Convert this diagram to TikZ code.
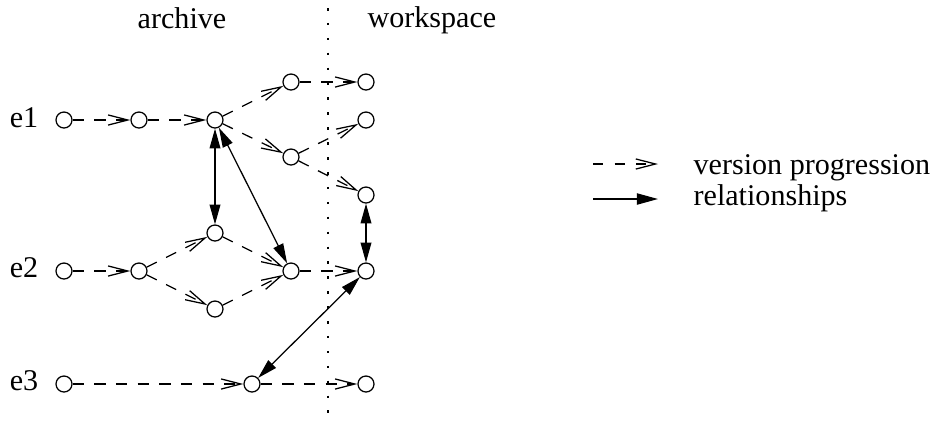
\documentclass[tikz,border=0pt]{standalone}
\usepackage{fontspec}
\setmainfont{Liberation Serif}
\usetikzlibrary{arrows.meta}

\begin{document}
\begin{tikzpicture}[x=0.0125cm,y=-0.0125cm,line width=0.45pt,
    ver/.style={circle,draw,inner sep=0pt,minimum size=0.2cm},
    prog/.style={dash pattern=on 4pt off 3.7pt,-{Straight Barb[length=7pt,width=3.6pt]}},
    rel/.style={{Triangle[length=7pt,width=3.8pt]}-{Triangle[length=7pt,width=3.8pt]}},
    lbl/.style={font=\fontsize{10.7}{12}\selectfont,inner sep=0pt,anchor=base}]

    \useasboundingbox (0,0) rectangle (933,420);

    % archive / workspace split
    \draw[line width=0.9pt,dash pattern=on 0.9pt off 4.4pt] (328,8)--(328,420);
    \node[lbl] (arch) at (182,28) {archive};
    \node[lbl,anchor=base west] (work) at (367,27) {workspace};

    % e1
    \node[lbl] (e1) at (24,127) {e1};
    \node[ver] (a1) at (64,120) {};
    \node[ver] (a2) at (139,120) {};
    \node[ver] (a3) at (215,120) {};
    \node[ver] (b1) at (291,82) {};
    \node[ver] (b2) at (291,157) {};
    \node[ver] (w1) at (366,82) {};
    \node[ver] (w2) at (366,120) {};
    \node[ver] (w3) at (366,195) {};
    \draw[prog] (a1)--(a2);
    \draw[prog] (a2)--(a3);
    \draw[prog] (a3)--(b1);
    \draw[prog] (a3)--(b2);
    \draw[prog] (b1)--(w1);
    \draw[prog] (b2)--(w2);
    \draw[prog] (b2)--(w3);

    % e2
    \node[lbl] (e2) at (24,277) {e2};
    \node[ver] (c1) at (64,271) {};
    \node[ver] (c2) at (139,271) {};
    \node[ver] (c3) at (215,233) {};
    \node[ver] (c4) at (215,309) {};
    \node[ver] (c5) at (291,271) {};
    \node[ver] (w4) at (366,271) {};
    \draw[prog] (c1)--(c2);
    \draw[prog] (c2)--(c3);
    \draw[prog] (c2)--(c4);
    \draw[prog] (c3)--(c5);
    \draw[prog] (c4)--(c5);
    \draw[prog] (c5)--(w4);

    % e3
    \node[lbl] (e3) at (24,390) {e3};
    \node[ver] (d1) at (64,384) {};
    \node[ver] (d2) at (252,384) {};
    \node[ver] (w5) at (366,384) {};
    \draw[prog] (d1)--(d2);
    \draw[prog] (d2)--(w5);

    % relationships
    \draw[rel] (a3)--(c3);
    \draw[rel] (a3)--(c5);
    \draw[rel] (w3)--(w4);
    \draw[rel] (w4)--(d2);

    % legend
    \coordinate (p1) at (593,164);
    \coordinate (p2) at (658,164);
    \coordinate (r1) at (593,199);
    \coordinate (r2) at (658,199);
    \draw[prog,dash pattern=on 3.5pt off 4.2pt] (p1)--(p2);
    \draw[-{Triangle[length=7.5pt,width=4pt]}] (r1)--(r2);
    \node[lbl,anchor=base west] (tp) at (693,174) {version progression};
    \node[lbl,anchor=base west] (tr) at (693,205) {relationships};

\end{tikzpicture}
\end{document}
